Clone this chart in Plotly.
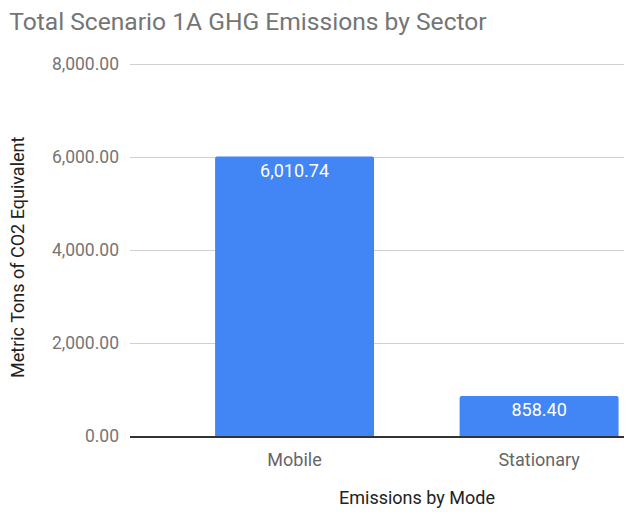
import plotly.graph_objects as go

categories = ["Mobile", "Stationary"]
values = [6010.74, 858.40]
value_labels = ["6,010.74", "858.40"]
y_ticks = [0, 2000, 4000, 6000, 8000]
y_tick_labels = ["0.00", "2,000.00", "4,000.00", "6,000.00", "8,000.00"]

fig = go.Figure()
fig.add_trace(go.Bar(
    x=[0, 1], y=values,
    width=0.65,
    marker=dict(color="#4285F4", cornerradius=2, line=dict(width=0)),
    text=value_labels, textposition="inside", insidetextanchor="end",
    textfont=dict(family="Roboto", size=18, color="white"),
    hoverinfo="skip",
))

W, H = 624, 504
L, T, B = 122, 53, 76
fig.update_layout(
    width=W, height=H,
    margin=dict(l=L, r=0, t=T, b=B, pad=0),
    plot_bgcolor="white", paper_bgcolor="white",
    showlegend=False,
    title=dict(text="Total Scenario 1A GHG Emissions by Sector",
               x=0.002, xanchor="left", y=0.973, yanchor="middle",
               font=dict(family="Roboto", size=24.6, color="#757575")),
    font=dict(family="Roboto"),
)
fig.update_xaxes(
    range=[-0.673, 1.380],
    tickmode="array", tickvals=[0, 1], ticktext=categories,
    tickfont=dict(family="Roboto", size=18, color="#666666"),
    showgrid=False, zeroline=False,
    showline=True, linecolor="#333333", linewidth=1.5,
    ticks="", ticklabelstandoff=7,
)
fig.update_yaxes(
    range=[0, 8000 + 3 * 2000 / 93],
    tickmode="array", tickvals=y_ticks, ticktext=y_tick_labels,
    tickfont=dict(family="Roboto", size=17.5, color="#757575"),
    showgrid=True, gridcolor="#d0d0d0", gridwidth=1,
    zeroline=False, ticks="", ticklabelstandoff=10,
)
plot_h = H - T - B
plot_w = W - L
fig.add_annotation(
    text="Metric Tons of CO2 Equivalent", textangle=-90,
    xref="paper", x=(9 - L) / plot_w, yref="paper", y=(H - B - 250) / plot_h,
    xanchor="center", yanchor="middle", showarrow=False,
    font=dict(family="Roboto", size=18, color="#222222"),
)
fig.add_annotation(
    text="Emissions by Mode", xref="x", x=0.5, yref="paper",
    y=(H - B - 489.5) / plot_h,
    xanchor="center", yanchor="middle", showarrow=False,
    font=dict(family="Roboto", size=18, color="#222222"),
)
fig.write_html("out.html")
